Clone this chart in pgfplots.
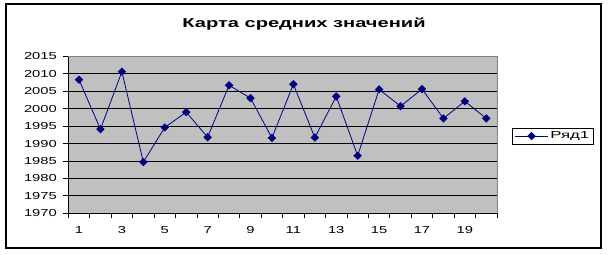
\documentclass[border=0pt]{standalone}
\usepackage{fontspec}
\setmainfont[FakeStretch=1.45]{Liberation Sans}
\newfontfamily\titlefont[FakeStretch=1.55]{Liberation Sans}
\newfontfamily\legfont[FakeStretch=1.65]{Liberation Sans}
\usepackage{pgfplots}
\pgfplotsset{compat=1.18}
\definecolor{navyx}{RGB}{0,0,128}
\definecolor{plotgrey}{RGB}{192,192,192}
\definecolor{bordergrey}{RGB}{128,128,128}
\begin{document}
\begin{tikzpicture}[x=1bp,y=1bp]
\useasboundingbox (0,0) rectangle (610,254);
\draw[line width=1.2bp] (6,6) rectangle (601,250);
\node[font=\titlefont\fontsize{13}{15}\selectfont\bfseries, anchor=base] at (304,226.3) {Карта средних значений};
\begin{axis}[
  at={(68.3bp,40.7bp)}, anchor=south west,
  scale only axis, width=428.7bp, height=157bp,
  xmin=0.5, xmax=20.5, ymin=1970, ymax=2015,
  axis background/.style={fill=plotgrey},
  axis x line*=bottom, axis y line*=left,
  axis line style={black, line width=0.8bp},
  xtick={1,3,...,19},
  minor xtick={0.5,1.5,...,20.5},
  ytick={1970,1975,...,2015},
  tick align=outside,
  major x tick style={draw=none},
  minor x tick style={black, line width=0.8bp},
  major y tick style={black, line width=0.8bp},
  major tick length=5bp, minor tick length=5bp,
  ymajorgrids, major grid style={black, line width=0.9bp},
  /pgf/number format/assume math mode=true,
  /pgf/number format/1000 sep={},
  tick label style={font=\fontsize{10.2}{12}\selectfont},
  xticklabel style={yshift=-5bp},
  yticklabel style={xshift=-3bp},
  legend style={at={(rel axis cs:1.0357,0.492)}, anchor=west, draw=black, line width=0.8bp,
    fill=white, inner xsep=2bp, inner ysep=1.8bp, font=\legfont\fontsize{10.2}{12}\selectfont,
    legend cell align=left},
  legend image code/.code={
    \draw[#1, mark repeat=2, mark phase=2] plot coordinates {(0cm,0cm) (0.58cm,0cm) (1.16cm,0cm)};},
  clip=false,
]
\addplot[navyx, line width=0.8bp, mark=diamond*, mark size=3.6bp, mark options={xscale=1.35, solid, fill=navyx, draw=navyx}] coordinates {
(1,2008.3) (2,1994.1) (3,2010.6) (4,1984.7) (5,1994.6)
(6,1999.0) (7,1991.8) (8,2006.7) (9,2003.0) (10,1991.6)
(11,2007.0) (12,1991.7) (13,2003.5) (14,1986.5) (15,2005.5)
(16,2000.7) (17,2005.6) (18,1997.2) (19,2002.1) (20,1997.2)
};
\addlegendentry{Ряд1}
\draw[bordergrey, line width=0.9bp] (rel axis cs:0,1) -- (rel axis cs:1,1) -- (rel axis cs:1,0);
\end{axis}
\end{tikzpicture}
\end{document}
